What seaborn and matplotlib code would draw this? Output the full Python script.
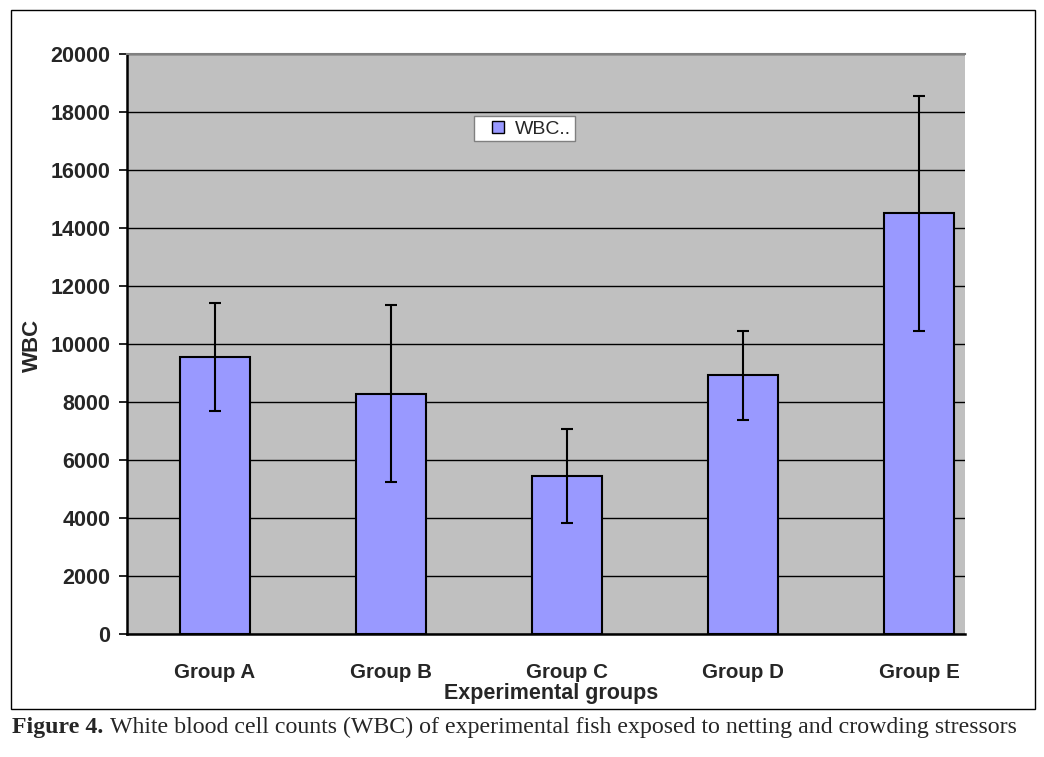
import numpy as np
import pandas as pd
import seaborn as sns
import matplotlib.pyplot as plt
from matplotlib.patches import Rectangle
from matplotlib.lines import Line2D

# data
groups = ["Group A", "Group B", "Group C", "Group D", "Group E"]
wbc = [9570, 8300, 5460, 8930, 14520]
wbc_err = [1870, 3050, 1630, 1525, 4050]
yticks = [0, 2000, 4000, 6000, 8000, 10000, 12000, 14000, 16000, 18000, 20000]

df = pd.DataFrame({"group": groups, "WBC": wbc})

sns.set_style("white")
plt.rcParams['font.family'] = ['Liberation Sans', 'DejaVu Sans']

fig = plt.figure(figsize=(10.44, 7.57), dpi=100)
ax = fig.add_axes([127/1044, 1-634.3/757, 838/1044, 580/757])
ax.set_facecolor("#C0C0C0")

sns.barplot(data=df, x="group", y="WBC", color="#9999FF", saturation=1,
            edgecolor="black", linewidth=1.5, width=0.4, errorbar=None, ax=ax, zorder=3)
ax.errorbar(np.arange(len(groups)), wbc, yerr=wbc_err, fmt="none", ecolor="black",
            elinewidth=1.5, capsize=4.5, capthick=1.5, zorder=4)

ax.set_yticks(yticks)
ax.set_yticklabels([str(t) for t in yticks], fontsize=15.5, fontweight="bold")
ax.yaxis.grid(True, color="black", linewidth=1)
ax.set_axisbelow(True)

# category labels without ticks, boundary ticks on the axis
ax.set_xticks(np.arange(len(groups)))
ax.set_xticklabels(groups, fontsize=14.8, fontweight="bold")
ax.tick_params(axis="x", length=0, pad=21)
ax.set_xticks(np.arange(len(groups) + 1) - 0.5, minor=True)
ax.tick_params(axis="x", which="minor", length=6, width=1.5, direction="out", color="black")
ax.tick_params(axis="y", length=6, width=1.2, direction="out", color="black", left=True, pad=6)
ax.set_ylim(0, 20000)
ax.set_xlim(-0.5, -0.5 + 838/176)

ax.set_xlabel("")
ax.set_ylabel("")
for s in ["left", "bottom"]:
    ax.spines[s].set_color("black")
    ax.spines[s].set_linewidth(1.8)
ax.spines["top"].set_color("#808080")
ax.spines["top"].set_linewidth(1.5)
ax.spines["right"].set_visible(False)

fig.text(551/1044, 1-693/757, "Experimental groups", ha="center", va="center",
         fontsize=15.5, fontweight="bold")
fig.text(32/1044, 1-345/757, "WBC", ha="center", va="center", rotation=90,
         fontsize=16, fontweight="bold")

# legend
handle = Line2D([], [], marker="s", linestyle="none", markerfacecolor="#9999FF",
                markeredgecolor="black", markersize=8.5)
leg = ax.legend([handle], ["WBC.."], loc="upper left", bbox_to_anchor=((474-127)/838, (634.3-116)/580),
                fontsize=14, frameon=True, fancybox=False, handletextpad=-0.2,
                borderpad=0.2, borderaxespad=0, handlelength=2.1, framealpha=1)
leg.get_frame().set_edgecolor("#808080")
leg.get_frame().set_linewidth(1)
leg.get_frame().set_facecolor("white")

# outer chart border
fig.patches.append(Rectangle((11/1044, 1-709/757), 1024/1044, 699/757, transform=fig.transFigure,
                             fill=False, edgecolor="black", linewidth=1))

# caption
t1 = fig.text(12/1044, 1-727/757, "Figure 4.", ha="left", va="center", fontsize=17.2,
              fontweight="bold", family="Liberation Serif")
fig.canvas.draw()
bb = t1.get_window_extent()
fig.text((bb.x1 + 7)/1044, 1-727/757, "White blood cell counts (WBC) of experimental fish exposed to netting and crowding stressors",
         ha="left", va="center", fontsize=17.2, family="Liberation Serif")

fig.savefig("out.png", dpi=100)
